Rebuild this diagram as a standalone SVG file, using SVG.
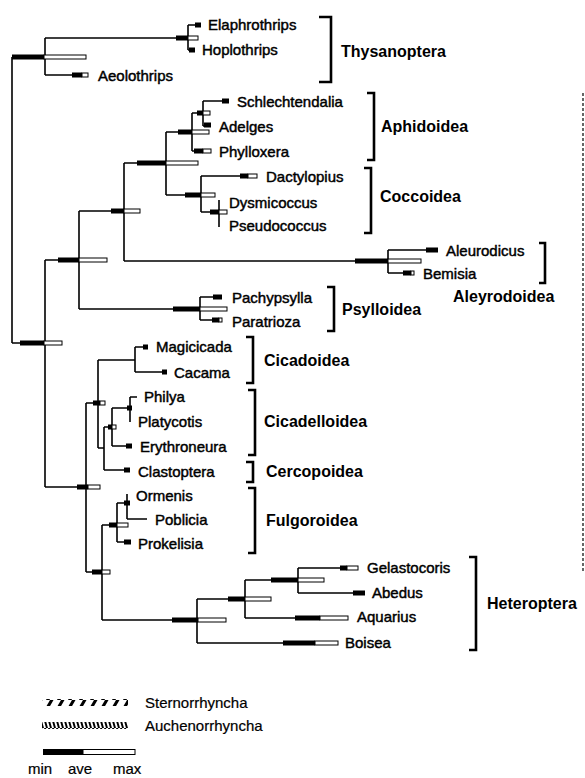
<svg xmlns="http://www.w3.org/2000/svg" width="585" height="778" viewBox="0 0 585 778">
<defs>
<style>
.br{fill:none;stroke:#000;stroke-width:1.6}
.bk{fill:none;stroke:#000;stroke-width:2.6}
.mn{fill:#000}
.mx{fill:#fff;stroke:#000;stroke-width:1}
.tx{font-family:"Liberation Sans",Arial,sans-serif;font-size:15px;fill:#000;stroke:#000;stroke-width:0.45}
.gp{font-family:"Liberation Sans",Arial,sans-serif;font-size:16px;font-weight:bold;fill:#000}
.lg{font-family:"Liberation Sans",Arial,sans-serif;font-size:15px;fill:#000;stroke:#000;stroke-width:0.2}
</style>
<pattern id="fw" width="11" height="7" patternUnits="userSpaceOnUse"><polygon points="2,7 5.5,7 9.5,0 6,0" fill="#000"/></pattern>
<pattern id="bw" width="4" height="7" patternUnits="userSpaceOnUse"><polygon points="0,0 2,0 4,7 2,7" fill="#000"/></pattern>
</defs>
<rect width="585" height="778" fill="#fff"/>

<g id="connectors">
<path class="br" d="M12,57 V343 M12,57 H45 M45,38 V75 M45,38 H188 M188,25 V50 M188,25 H196 M188,50 H190 M45,75 H72"/>
<path class="br" d="M12,343 H45 M45,260 V487 M45,260 H79 M79,211 V309 M79,211 H124 M124,163 V261 M124,163 H166 M166,132 V195 M166,132 H192 M192,113 V151 M192,113 H203 M203,101 V126 M203,101 H222 M203,126 H206 M192,151 H196"/>
<path class="br" d="M166,195 H201 M201,176 V212 M201,176 H240 M201,212 H219 M219,200 V227"/>
<path class="br" d="M124,261 H388 M388,250 V273 M388,250 H426 M388,273 H403"/>
<path class="br" d="M79,309 H173 M200,297 V320 M200,297 H213 M200,320 H212"/>
<path class="br" d="M45,487 H86 M86,403 V572 M86,403 H98 M98,360 V448 M98,360 H135 M135,347 V372 M135,347 H143 M135,372 H162"/>
<path class="br" d="M98,448 H104 M104,427 V470 M104,427 H112 M112,408 V446 M112,408 H130 M130,397 V422 M130,397 H137 M112,446 H126 M104,470 H124"/>
<path class="br" d="M86,572 H102 M102,525 V620 M102,525 H117 M117,503 V542 M117,503 H127 M127,494 V519 M127,519 H147 M117,542 H124"/>
<path class="br" d="M102,620 H198 M197,599 V643 M197,599 H245 M245,580 V618 M245,580 H298 M298,568 V593 M298,568 H340 M298,593 H353 M245,618 H295 M197,643 H283"/>
</g>

<g id="bars">
<rect class="mn" x="12" y="54.5" width="32" height="5"/><rect class="mx" x="44" y="55" width="42" height="4"/>
<rect class="mn" x="176" y="35.5" width="12" height="5"/><rect class="mx" x="188" y="36" width="10" height="4"/>
<rect class="mn" x="195" y="22.5" width="6" height="5"/>
<rect class="mn" x="189" y="47.5" width="6" height="5"/>
<rect class="mn" x="72" y="72.5" width="10" height="5"/><rect class="mx" x="82" y="73" width="6" height="4"/>

<rect class="mn" x="20" y="340.5" width="24" height="5"/><rect class="mx" x="44" y="341" width="18" height="4"/>
<rect class="mn" x="58" y="257.5" width="21" height="5"/><rect class="mx" x="79" y="258" width="28" height="4"/>
<rect class="mn" x="111" y="208.5" width="13" height="5"/><rect class="mx" x="124" y="209" width="16" height="4"/>
<rect class="mn" x="137" y="160.5" width="29" height="5"/><rect class="mx" x="166" y="161" width="32" height="4"/>
<rect class="mn" x="178" y="129.5" width="14" height="5"/><rect class="mx" x="192" y="130" width="17" height="4"/>
<rect class="mn" x="197" y="110.5" width="6" height="5"/><rect class="mx" x="203" y="111" width="7" height="4"/>
<rect class="mn" x="222" y="98.5" width="7" height="5"/>
<rect class="mn" x="204" y="122.5" width="7" height="5"/>
<rect class="mn" x="194" y="148.5" width="9" height="5"/><rect class="mx" x="203" y="149" width="8" height="4"/>

<rect class="mn" x="185" y="192.5" width="16" height="5"/><rect class="mx" x="201" y="193" width="14" height="4"/>
<rect class="mn" x="240" y="173.5" width="8" height="5"/><rect class="mx" x="248" y="174" width="9" height="4"/>
<rect class="mn" x="210" y="209.5" width="9" height="5"/><rect class="mx" x="219" y="210" width="8" height="4"/>

<rect class="mn" x="355" y="258.5" width="33" height="5"/><rect class="mx" x="388" y="259" width="33" height="4"/>
<rect class="mn" x="426" y="247.5" width="12" height="5"/>
<rect class="mn" x="403" y="270.5" width="8" height="5"/><rect class="mx" x="411" y="271" width="3" height="4"/>

<rect class="mn" x="173" y="306.5" width="27" height="5"/><rect class="mx" x="200" y="307" width="27" height="4"/>
<rect class="mn" x="213" y="294.5" width="9" height="5"/>
<rect class="mn" x="212" y="317.5" width="7" height="5"/><rect class="mx" x="219" y="318" width="3" height="4"/>

<rect class="mn" x="77" y="484.5" width="11" height="5"/><rect class="mx" x="88" y="485" width="12" height="4"/>
<rect class="mn" x="93" y="400.5" width="7" height="5"/><rect class="mx" x="100" y="401" width="5" height="4"/>
<rect class="mn" x="143" y="344.5" width="5" height="5"/>
<rect class="mn" x="162" y="369.5" width="5" height="5"/>
<rect class="mn" x="108" y="424.5" width="4" height="5"/><rect class="mx" x="112" y="425" width="4" height="4"/>
<rect class="mn" x="127" y="405.5" width="5" height="5"/>
<rect class="mn" x="126" y="443.5" width="6" height="5"/>
<rect class="mn" x="124" y="467.5" width="6" height="5"/>

<rect class="mn" x="92" y="569.5" width="10" height="5"/><rect class="mx" x="102" y="570" width="8" height="4"/>
<rect class="mn" x="109" y="522.5" width="8" height="5"/><rect class="mx" x="117" y="523" width="11" height="4"/>
<rect class="mn" x="124" y="500.5" width="6" height="5"/>
<rect class="mn" x="124" y="539.5" width="7" height="5"/>

<rect class="mn" x="172" y="617.5" width="26" height="5"/><rect class="mx" x="198" y="618" width="28" height="4"/>
<rect class="mn" x="228" y="596.5" width="17" height="5"/><rect class="mx" x="245" y="597" width="26" height="4"/>
<rect class="mn" x="271" y="577.5" width="27" height="5"/><rect class="mx" x="298" y="578" width="26" height="4"/>
<rect class="mn" x="340" y="565.5" width="7" height="5"/><rect class="mx" x="347" y="566" width="11" height="4"/>
<rect class="mn" x="353" y="590.5" width="12" height="5"/>
<rect class="mn" x="295" y="615.5" width="25" height="5"/><rect class="mx" x="320" y="616" width="28" height="4"/>
<rect class="mn" x="283" y="640.5" width="32" height="5"/><rect class="mx" x="315" y="641" width="23" height="4"/>
</g>

<g id="taxa">
<text class="tx" x="208" y="30">Elaphrothrips</text>
<text class="tx" x="202" y="55">Hoplothrips</text>
<text class="tx" x="98" y="81">Aeolothrips</text>
<text class="tx" x="237" y="107">Schlechtendalia</text>
<text class="tx" x="219" y="132">Adelges</text>
<text class="tx" x="219" y="157">Phylloxera</text>
<text class="tx" x="266" y="182">Dactylopius</text>
<text class="tx" x="229" y="208">Dysmicoccus</text>
<text class="tx" x="229" y="231">Pseudococcus</text>
<text class="tx" x="446" y="256">Aleurodicus</text>
<text class="tx" x="423" y="279">Bemisia</text>
<text class="tx" x="232" y="303">Pachypsylla</text>
<text class="tx" x="232" y="327">Paratrioza</text>
<text class="tx" x="156" y="352">Magicicada</text>
<text class="tx" x="174" y="378">Cacama</text>
<text class="tx" x="144" y="402">Philya</text>
<text class="tx" x="138" y="427">Platycotis</text>
<text class="tx" x="140" y="452">Erythroneura</text>
<text class="tx" x="138" y="477">Clastoptera</text>
<text class="tx" x="136" y="501">Ormenis</text>
<text class="tx" x="155" y="525">Poblicia</text>
<text class="tx" x="138" y="549">Prokelisia</text>
<text class="tx" x="367" y="573">Gelastocoris</text>
<text class="tx" x="372" y="598">Abedus</text>
<text class="tx" x="357" y="622">Aquarius</text>
<text class="tx" x="345" y="648">Boisea</text>
</g>

<g id="groups">
<path class="bk" d="M319,17 H331 V82 H319"/><text class="gp" x="341" y="57">Thysanoptera</text>
<path class="bk" d="M367,93 H374 V160 H367"/><text class="gp" x="381" y="132">Aphidoidea</text>
<path class="bk" d="M364,168 H371 V233 H364"/><text class="gp" x="380" y="202">Coccoidea</text>
<path class="bk" d="M539,243 H545 V283 H539"/><text class="gp" x="453" y="302">Aleyrodoidea</text>
<path class="bk" d="M327,287 H334 V331 H327"/><text class="gp" x="342" y="315">Psylloidea</text>
<path class="bk" d="M246,337 H253 V383 H246"/><text class="gp" x="264" y="366">Cicadoidea</text>
<path class="bk" d="M248,390 H255 V455 H248"/><text class="gp" x="264" y="427">Cicadelloidea</text>
<path class="bk" d="M246,462 H253 V482 H246"/><text class="gp" x="266" y="477">Cercopoidea</text>
<path class="bk" d="M248,488 H255 V553 H248"/><text class="gp" x="266" y="526">Fulgoroidea</text>
<path class="bk" d="M469,557 H476 V650 H469"/><text class="gp" x="487" y="609">Heteroptera</text>
</g>

<path id="divider" d="M583,93 V572" fill="none" stroke="#000" stroke-width="1.2" stroke-dasharray="3 2"/>

<g id="legend">
<rect x="42" y="699" width="86" height="7" fill="url(#fw)"/>
<text class="lg" x="145" y="708">Sternorrhyncha</text>
<rect x="42" y="722" width="86" height="7" fill="url(#bw)"/>
<text class="lg" x="145" y="731">Auchenorrhyncha</text>
<rect class="mn" x="43" y="749" width="40" height="6"/><rect class="mx" x="83" y="749.5" width="52" height="5"/>
<text class="lg" x="28" y="774">min</text>
<text class="lg" x="68" y="774">ave</text>
<text class="lg" x="113" y="774">max</text>
</g>
</svg>
